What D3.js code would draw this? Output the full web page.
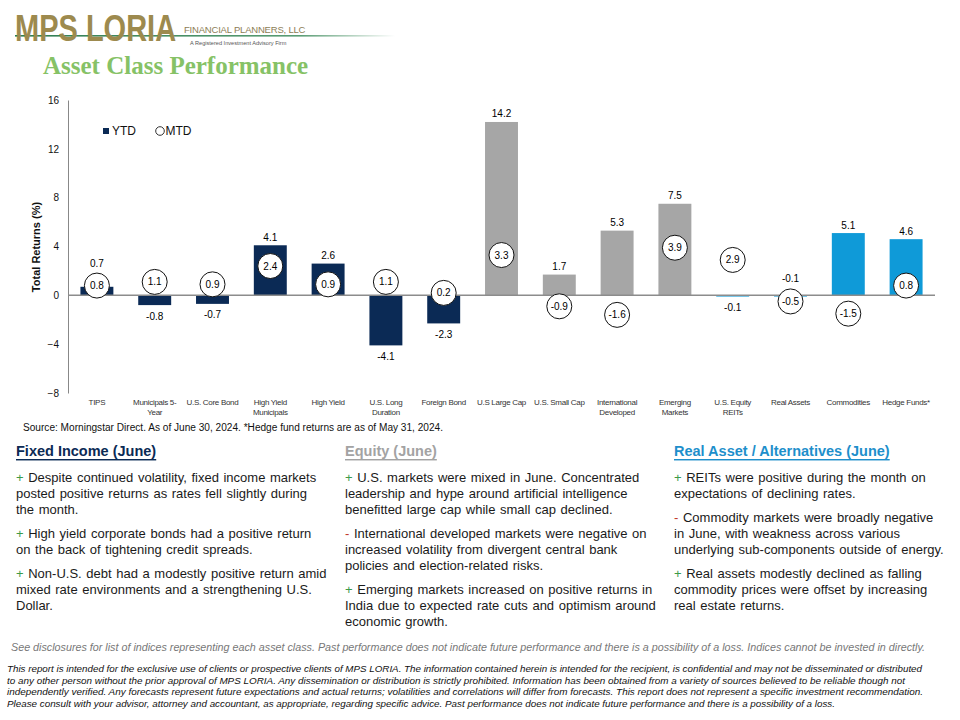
<!DOCTYPE html>
<html>
<head>
<meta charset="utf-8">
<script src="https://cdn.jsdelivr.net/npm/d3@7"></script>
<style>
  html, body { margin: 0; padding: 0; background: #fff; }
  svg { display: block; font-family: "Liberation Sans", Arial, sans-serif; }
</style>
</head>
<body>
<svg id="chart" width="960" height="720"></svg>
<script>
// ---------- data ----------
const categories = ["TIPS","Municipals 5-Year","U.S. Core Bond","High Yield Municipals","High Yield",
  "U.S. Long Duration","Foreign Bond","U.S Large Cap","U.S. Small Cap","International Developed",
  "Emerging Markets","U.S. Equity REITs","Real Assets","Commodities","Hedge Funds*"];
const tickLabelLines = [["TIPS"],["Municipals 5-","Year"],["U.S. Core Bond"],["High Yield","Municipals"],["High Yield"],
  ["U.S. Long","Duration"],["Foreign Bond"],["U.S Large Cap"],["U.S. Small Cap"],["International","Developed"],
  ["Emerging","Markets"],["U.S. Equity","REITs"],["Real Assets"],["Commodities"],["Hedge Funds*"]];
const groups = ["fi","fi","fi","fi","fi","fi","fi","eq","eq","eq","eq","ra","ra","ra","ra"];
const ytd = [0.7,-0.8,-0.7,4.1,2.6,-4.1,-2.3,14.2,1.7,5.3,7.5,-0.1,-0.1,5.1,4.6];
const mtd = [0.8,1.1,0.9,2.4,0.9,1.1,0.2,3.3,-0.9,-1.6,3.9,2.9,-0.5,-1.5,0.8];
const yTicks = [-8,-4,0,4,8,12,16];

const groupColor = {fi: "#0b2a55", eq: "#a6a6a6", ra: "#0f9ad8"};

const svg = d3.select("#chart");

// ---------- header / logo ----------
const defs = svg.append("defs");
const lg = defs.append("linearGradient").attr("id","fade").attr("x1","0").attr("x2","1");
lg.append("stop").attr("offset","0").attr("stop-color","#2f7d52");
lg.append("stop").attr("offset","0.75").attr("stop-color","#5a9c74");
lg.append("stop").attr("offset","1").attr("stop-color","#ffffff");
svg.append("rect").attr("x",15).attr("y",35).attr("width",380).attr("height",1.6).attr("fill","url(#fade)");
svg.append("text").attr("transform","translate(15,41) scale(1,1.3)")
  .attr("font-size",29).attr("font-weight","bold").attr("fill","#9d8a4e")
  .text("MPS LORIA");
svg.append("text").attr("x",184).attr("y",32.5)
  .attr("font-size",9.5).attr("fill","#8c7d55").attr("letter-spacing",-0.2).text("FINANCIAL PLANNERS, LLC");
svg.append("text").attr("x",190).attr("y",45)
  .attr("font-size",5.6).attr("fill","#555").text("A Registered Investment Advisory Firm");
svg.append("text").attr("x",43).attr("y",74).attr("font-family","'Liberation Serif', 'Times New Roman', serif")
  .attr("font-size",25).attr("font-weight","bold").attr("fill","#86c266").text("Asset Class Performance");

// ---------- chart ----------
const x = d3.scaleBand().domain(categories).range([68, 935]).paddingInner(0.43).paddingOuter(0.215);
const y = d3.scaleLinear().domain([-8, 16]).range([393, 100]);
const R = 12.5;

const g = svg.append("g");

// y axis
const yAxis = g.append("g").attr("transform", "translate(68,0)")
  .call(d3.axisLeft(y).tickValues(yTicks).tickSize(0).tickPadding(9).tickFormat(d3.format("d")));
yAxis.select(".domain").attr("stroke", "#888");
yAxis.selectAll("text").attr("font-size", 10).attr("fill", "#111").attr("font-family","'Liberation Sans', Arial, sans-serif");

g.append("text").attr("transform", "translate(36,247) rotate(-90)").attr("text-anchor","middle")
  .attr("dominant-baseline","central").attr("font-size",11).attr("font-weight","bold").attr("fill","#111")
  .text("Total Returns (%)");

// bars
const idx = d3.range(categories.length);
g.selectAll("rect.bar").data(idx).join("rect").attr("class","bar")
  .attr("x", i => x(categories[i]))
  .attr("width", x.bandwidth())
  .attr("y", i => Math.min(y(ytd[i]), y(0)))
  .attr("height", i => Math.abs(y(ytd[i]) - y(0)))
  .attr("fill", i => groupColor[groups[i]]);

// zero line
g.append("line").attr("x1", 68).attr("x2", 935).attr("y1", y(0)).attr("y2", y(0))
  .attr("stroke", "#8c8c8c").attr("stroke-width", 1.5);

// x tick labels
const xl = g.selectAll("text.xl").data(idx).join("text").attr("class","xl")
  .attr("x", i => x(categories[i]) + x.bandwidth()/2)
  .attr("y", 405).attr("text-anchor","middle").attr("font-size",8).attr("fill","#333")
  .attr("letter-spacing", -0.3);
xl.each(function(i) {
  const t = d3.select(this);
  tickLabelLines[i].forEach((line, k) => {
    t.append("tspan").attr("x", x(categories[i]) + x.bandwidth()/2).attr("dy", k === 0 ? 0 : 9.5).text(line);
  });
});

// YTD data labels
function labelY(i) {
  let ly = ytd[i] >= 0 ? y(ytd[i]) - 8 : y(ytd[i]) + 11;
  const cy = y(mtd[i]);
  if (Math.abs(ly - cy) < R + 6) ly = cy - R - 10;
  return ly;
}
g.selectAll("text.ytd").data(idx).join("text").attr("class","ytd")
  .attr("x", i => x(categories[i]) + x.bandwidth()/2)
  .attr("y", labelY).attr("dominant-baseline","central").attr("text-anchor","middle")
  .attr("font-size",10).attr("fill","#000").text(i => ytd[i].toFixed(1));

// MTD circles
g.selectAll("circle.mtd").data(idx).join("circle").attr("class","mtd")
  .attr("cx", i => x(categories[i]) + x.bandwidth()/2).attr("cy", i => y(mtd[i]))
  .attr("r", R).attr("fill","#fff").attr("stroke","#111").attr("stroke-width",1);
g.selectAll("text.mtd").data(idx).join("text").attr("class","mtd")
  .attr("x", i => x(categories[i]) + x.bandwidth()/2).attr("y", i => y(mtd[i]))
  .attr("dominant-baseline","central").attr("text-anchor","middle")
  .attr("font-size",10).attr("fill","#000").text(i => mtd[i].toFixed(1));

// legend
g.append("rect").attr("x",103).attr("y",128).attr("width",6).attr("height",6).attr("fill",groupColor.fi);
g.append("text").attr("x",112).attr("y",131).attr("dominant-baseline","central").attr("font-size",12).attr("fill","#111").text("YTD");
g.append("circle").attr("cx",160).attr("cy",131).attr("r",4.3).attr("fill","#fff").attr("stroke","#333");
g.append("text").attr("x",165.5).attr("y",131).attr("dominant-baseline","central").attr("font-size",12).attr("fill","#111").text("MTD");

// source
svg.append("text").attr("x",23).attr("y",427).attr("dominant-baseline","central").attr("font-size",10)
  .attr("textLength",420).attr("lengthAdjust","spacingAndGlyphs").attr("fill","#111")
  .text("Source: Morningstar Direct. As of June 30, 2024. *Hedge fund returns are as of May 31, 2024.");

// ---------- commentary columns ----------
const columns = [
  {x: 16, title: "Fixed Income (June)", color: "#0b2a55", paras: [
    ["+", ["Despite continued volatility, fixed income markets", "posted positive returns as rates fell slightly during", "the month."]],
    ["+", ["High yield corporate bonds had a positive return", "on the back of tightening credit spreads."]],
    ["+", ["Non-U.S. debt had a modestly positive return amid", "mixed rate environments  and a strengthening U.S.", "Dollar."]]
  ]},
  {x: 345, title: "Equity (June)", color: "#a3a3a3", paras: [
    ["+", ["U.S. markets were mixed in June. Concentrated", "leadership and hype around artificial intelligence", "benefitted large cap while small cap declined."]],
    ["-", ["International developed markets were negative on", "increased volatility from divergent  central bank", "policies and election-related risks."]],
    ["+", ["Emerging markets increased on positive returns in", "India due to expected rate cuts and optimism around", "economic growth."]]
  ]},
  {x: 674, title: "Real Asset / Alternatives (June)", color: "#1e8fcb", paras: [
    ["+", ["REITs were positive during the month on", "expectations of declining rates."]],
    ["-", ["Commodity markets were broadly negative", "in June, with weakness across various", "underlying sub-components outside of energy."]],
    ["+", ["Real assets modestly declined as falling", "commodity prices were offset by increasing", "real estate returns."]]
  ]}
];
columns.forEach(col => {
  svg.append("text").attr("x", col.x).attr("y", 451).attr("dominant-baseline","central")
    .attr("font-size", 14.5).attr("font-weight","bold").attr("fill", col.color)
    .style("text-decoration","underline").text(col.title);
  let cy = 477;
  col.paras.forEach(([sign, lines]) => {
    lines.forEach((line, k) => {
      const t = svg.append("text").attr("x", col.x).attr("y", cy).attr("dominant-baseline","central")
        .attr("font-size", 13).attr("word-spacing", 1).attr("fill", "#1a1a1a");
      if (k === 0) {
        t.append("tspan").attr("fill", sign === "+" ? "#3c9a48" : "#c0392b").text(sign + " ");
      }
      t.append("tspan").text(line);
      cy += 16;
    });
    cy += 8;
  });
});

// ---------- footer ----------
svg.append("text").attr("x",11).attr("y",647).attr("dominant-baseline","central").attr("font-size",10)
  .attr("font-style","italic").attr("fill","#777").attr("textLength",914).attr("lengthAdjust","spacingAndGlyphs")
  .text("See disclosures for list of indices representing each asset class. Past performance does not indicate future performance and there is a possibility of a loss. Indices cannot be invested in directly.");
const foot = [
  ["This report is intended for the exclusive use of clients or prospective clients of MPS LORIA. The information contained herein is intended for the recipient, is confidential and may not be disseminated or distributed", 915],
  ["to any other person without the prior approval of MPS LORIA. Any dissemination or distribution is strictly prohibited. Information has been obtained from a variety of sources believed to be reliable though not", 898],
  ["independently verified. Any forecasts represent future expectations and actual returns; volatilities and correlations will differ from forecasts. This report does not represent a specific investment recommendation.", 916],
  ["Please consult with your advisor, attorney and accountant, as appropriate, regarding specific advice. Past performance does not indicate future performance and there is a possibility of a loss.", 828]
];
foot.forEach(([line, w], k) => {
  svg.append("text").attr("x",7).attr("y",669 + k*11.5).attr("dominant-baseline","central").attr("font-size",9)
    .attr("font-style","italic").attr("fill","#111").attr("textLength",w).attr("lengthAdjust","spacingAndGlyphs")
    .text(line);
});
</script>
</body>
</html>
